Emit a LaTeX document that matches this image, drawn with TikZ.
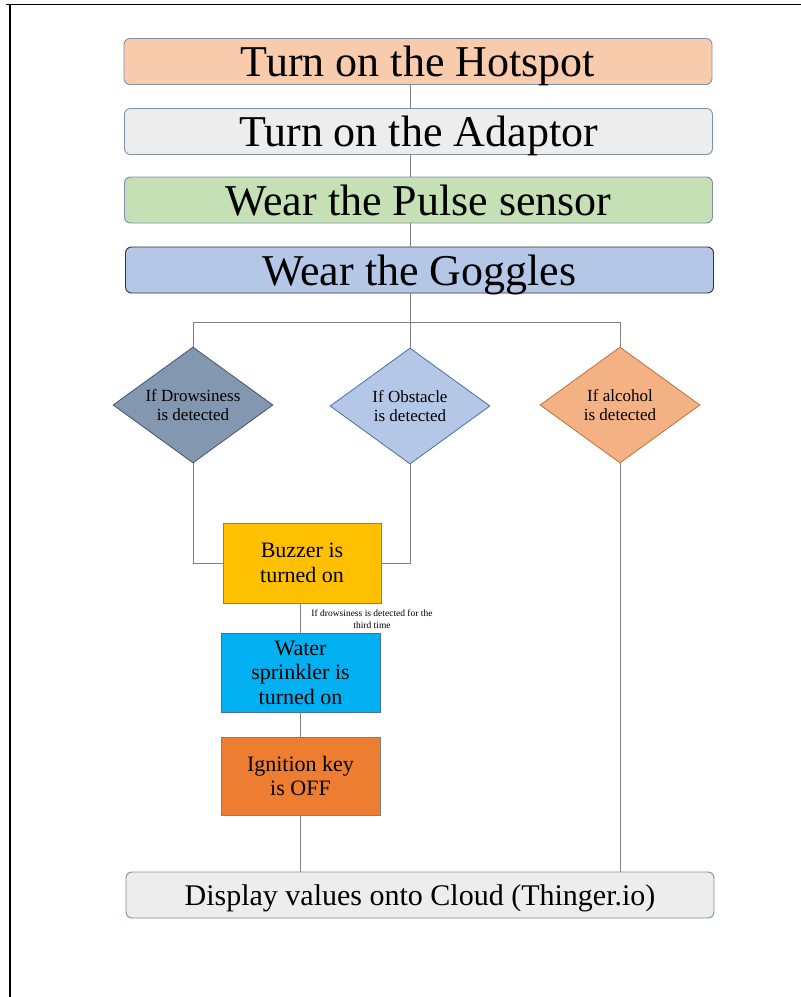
\documentclass[tikz,border=0pt]{standalone}
\usepackage{fontspec}
\setmainfont{Liberation Serif}
\usetikzlibrary{shapes.geometric}
\definecolor{bordgray}{HTML}{7F8FA9}
\definecolor{linegray}{HTML}{808080}
\definecolor{hotfill}{HTML}{F8CBAD}
\definecolor{adafill}{HTML}{EDEDED}
\definecolor{pulfill}{HTML}{C5E0B4}
\definecolor{gogfill}{HTML}{B4C7E7}
\definecolor{drowfill}{HTML}{8497B0}
\definecolor{drowbord}{HTML}{44546A}
\definecolor{obsbord}{HTML}{4A6FA5}
\definecolor{alcfill}{HTML}{F4B183}
\definecolor{alcbord}{HTML}{C0703A}
\definecolor{buzfill}{HTML}{FFC000}
\definecolor{watfill}{HTML}{00B0F0}
\definecolor{ignfill}{HTML}{ED7D31}
\begin{document}
\begin{tikzpicture}[x=1pt,y=-1pt,
  bigbox/.style={draw=bordgray, line width=0.9pt, rounded corners=6pt, minimum width=588pt, minimum height=46pt, inner sep=0pt, text depth=0pt, font=\fontsize{44}{46}\selectfont},
  decision/.style={diamond, draw, line width=0.8pt, aspect=1.39, inner sep=0pt, minimum width=160pt, minimum height=116pt, align=center, font=\fontsize{17}{19.5}\selectfont},
  actbox/.style={draw=linegray, line width=0.9pt, minimum width=159pt, minimum height=79pt, inner sep=0pt, align=center, font=\fontsize{22}{24.5}\selectfont},
  conn/.style={draw=linegray, line width=0.8pt}
]
\useasboundingbox (0,0) rectangle (801,997);
% frame
\draw[line width=1.8pt] (6,4.5) -- (801,4.5);
\draw[line width=2pt] (10,3.7) -- (10,997);

\coordinate (spine) at (410,0);
\coordinate (bus) at (410,322);

\node[bigbox, fill=hotfill] (hot) at (418,61.5) {Turn on the Hotspot};
\node[bigbox, fill=adafill] (ada) at (418.5,131.5) {Turn on the Adaptor};
\node[bigbox, fill=pulfill] (pul) at (418.5,200) {Wear the Pulse sensor};
\node[bigbox, fill=gogfill, draw=black!80] (gog) at (419.5,270) {Wear the Goggles};

\node[decision, fill=drowfill, draw=drowbord] (drow) at (193,405) {If Drowsiness\\is detected};
\node[decision, fill=gogfill, draw=obsbord] (obs) at (410,406) {If Obstacle\\is detected};
\node[decision, fill=alcfill, draw=alcbord] (alc) at (620,405) {If alcohol\\is detected};

\node[actbox, fill=buzfill, minimum width=158pt, minimum height=80pt] (buz) at (302,563) {Buzzer is\\turned on};
\node[actbox, fill=watfill, draw=obsbord] (wat) at (300.5,672.5) {Water\\sprinkler is\\turned on};
\node[actbox, fill=ignfill, minimum height=78pt] (ign) at (300.5,776) {Ignition key\\is OFF};

\node[bigbox, fill=adafill, font=\fontsize{30}{32}\selectfont] (disp) at (420,895) {Display values onto Cloud (Thinger.io)};

\node[align=center, inner sep=0pt, font=\fontsize{9.5}{12}\selectfont] (lbl) at (372,619) {If drowsiness is detected for the\\third time};

% connectors
\draw[conn] (hot.south -| spine) -- (ada.north -| spine);
\draw[conn] (ada.south -| spine) -- (pul.north -| spine);
\draw[conn] (pul.south -| spine) -- (gog.north -| spine);
\draw[conn] (gog.south -| spine) -- (bus);
\draw[conn] (bus) -| (drow.north);
\draw[conn] (bus) -| (alc.north);
\draw[conn] (bus) -- (obs.north);
\draw[conn] (drow.south) |- (buz.west);
\draw[conn] (obs.south) |- (buz.east);
\draw[conn] (wat.north |- buz.south) -- (wat.north);
\draw[conn] (wat.south) -- (ign.north);
\draw[conn] (ign.south) -- (disp.north -| ign.south);
\draw[conn] (alc.south) -- (disp.north -| alc.south);
\end{tikzpicture}
\end{document}
